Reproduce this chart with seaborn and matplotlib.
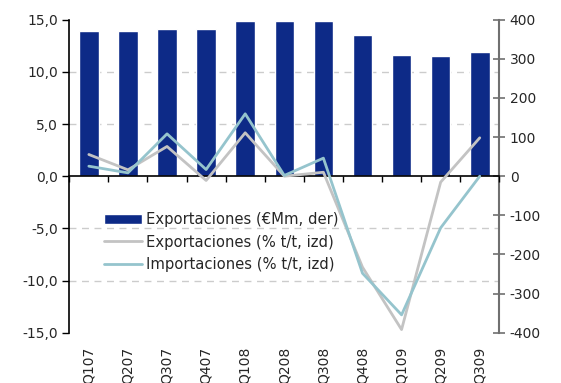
import numpy as np
import pandas as pd
import matplotlib
matplotlib.use("Agg")
import matplotlib.pyplot as plt
import seaborn as sns
from matplotlib.ticker import FuncFormatter

quarters = ["Q107", "Q207", "Q307", "Q407", "Q108", "Q208", "Q308",
            "Q408", "Q109", "Q209", "Q309"]
export_level = [370, 370, 377.5, 377.5, 395.4, 395.4, 395.4, 362, 308.5, 306, 318.7]
export_qoq = [2.08, 0.61, 2.85, -0.41, 4.16, 0.0, 0.38, -8.72, -14.7, -0.57, 3.68]
import_qoq = [0.96, 0.32, 4.06, 0.64, 5.98, 0.07, 1.73, -9.3, -13.29, -4.95, 0.0]

lbl_bar = "Exportaciones (€Mm, der)"
lbl_exp = "Exportaciones (% t/t, izd)"
lbl_imp = "Importaciones (% t/t, izd)"

df = pd.DataFrame({"quarter": quarters, "level": export_level,
                   "exp": export_qoq, "imp": import_qoq})

sns.set_style("white")
plt.rcParams["font.family"] = ["DejaVu Sans"]
plt.rcParams["axes.unicode_minus"] = False

fig = plt.figure(figsize=(5.61, 3.83), dpi=100)
ax = fig.add_axes([69.3 / 561, 50.3 / 383, 430 / 561, 313 / 383])

# Bars (right scale)
sns.barplot(data=df, x="quarter", y="level", color="#0d2a87", saturation=1,
            width=0.5, ax=ax, label=lbl_bar)
ax.set_xlim(-0.5, len(quarters) - 0.5)

# Lines (left scale)
ax2 = ax.twinx()
sns.lineplot(data=df, x="quarter", y="exp", ax=ax2, color="#c3c3c3", lw=2,
             label=lbl_exp)
sns.lineplot(data=df, x="quarter", y="imp", ax=ax2, color="#95c4cd", lw=2,
             label=lbl_imp)

# right axis (bars)
ax.set_ylim(-400, 400)
ax.yaxis.tick_right()
ax.set_yticks(np.arange(-400, 401, 100))
ax.set_yticks(np.linspace(-400, 400, 7), minor=True)
ax.grid(False)
ax.yaxis.grid(True, which="minor", linestyle=(0, (5, 4)), color="#cccccc", lw=1)
ax.tick_params(axis="y", which="minor", length=0)
ax.tick_params(axis="y", which="major", direction="inout", length=9,
               color="#707070", width=1.2, labelsize=10, pad=3,
               labelright=True, labelleft=False)
for s in ["top", "left", "bottom"]:
    ax.spines[s].set_visible(False)
ax.spines["right"].set_color("#707070")
ax.spines["right"].set_linewidth(1.5)
ax.set_xlabel("")
ax.set_ylabel("")
ax.tick_params(axis="x", length=0, pad=10, labelrotation=90, labelsize=10)

# left axis (lines)
ax2.set_ylim(-15, 15)
ax2.yaxis.tick_left()
ax2.yaxis.set_label_position("left")
ax2.set_yticks(np.arange(-15, 16, 5))
ax2.yaxis.set_major_formatter(FuncFormatter(lambda v, p: f"{v:.1f}".replace(".", ",")))
ax2.tick_params(axis="y", direction="out", length=5, color="black", width=1,
                labelsize=10, pad=3, labelleft=True, labelright=False)
for s in ["top", "right", "bottom"]:
    ax2.spines[s].set_visible(False)
ax2.spines["left"].set_color("black")
ax2.spines["left"].set_linewidth(1.2)
ax2.set_ylabel("")
ax2.set_xlabel("")

# zero line with category separators
sec = ax2.secondary_xaxis(0.5)
sec.set_alignment("bottom")
sec.set_xticks(np.arange(-0.5, len(quarters), 1.0))
sec.tick_params(axis="x", direction="out", length=4, width=1, color="black",
                labelbottom=False, labeltop=False)
sec.spines["bottom"].set_color("black")
sec.spines["bottom"].set_linewidth(1.2)

# legend
h1, l1 = ax.get_legend_handles_labels()
h2, l2 = ax2.get_legend_handles_labels()
if ax.get_legend() is not None:
    ax.get_legend().remove()
if ax2.get_legend() is not None:
    ax2.get_legend().remove()
leg = ax2.legend(h1 + h2, l1 + l2, loc="center left",
                 bbox_to_anchor=(104 / 561, 141 / 383),
                 bbox_transform=fig.transFigure, frameon=False, borderpad=0,
                 borderaxespad=0, handlelength=2.55, handletextpad=0.3,
                 labelspacing=0.5, fontsize=10.6)

fig.savefig("out.png", dpi=100)
